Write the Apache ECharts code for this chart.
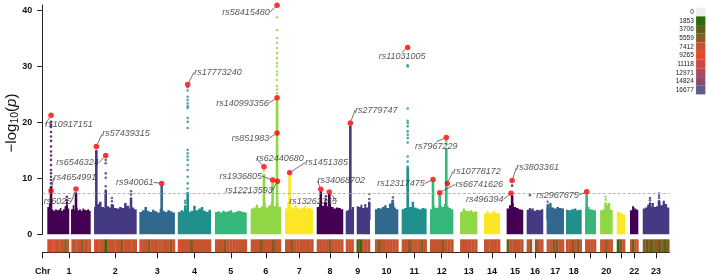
<!DOCTYPE html>
<html>
<head>
<meta charset="utf-8">
<script src="https://cdn.jsdelivr.net/npm/echarts@6/dist/echarts.min.js"></script>
<style>
  html, body { margin: 0; padding: 0; background: #fff; }
  #chart { width: 708px; height: 276px; }
</style>
</head>
<body>
<div id="chart"></div>
<script>
// chromosome layout on the cumulative genome axis (Mb-like units)
const chromNames = ['1','2','3','4','5','6','7','8','9','10','11','12','13','14','15','16','17','18','19','20','21','22','23'];
const chromStart = [26, 290, 546, 763, 973, 1175, 1369, 1548, 1712, 1877, 2028, 2188, 2358, 2493, 2621, 2734, 2847, 2956, 3064, 3149, 3243, 3318, 3390];
const chromEnd   = [271, 531, 747, 951, 1153, 1346, 1529, 1698, 1849, 2009, 2169, 2320, 2455, 2584, 2715, 2828, 2945, 3045, 3126, 3220, 3290, 3365, 3540];
const unlabelledChroms = ['19', '21'];
const genomeEnd = 3540;
const yMax = 41;
const yTicks = [0, 10, 20, 30, 40];
const threshold = 7.3;

// bulk of the SNP cloud: one segment per chromosome block, top heights per bin
const cloudSegChr   = [1, 1, 2, 3, 4, 5, 6, 7, 8, 9, 9, 10, 11, 12, 13, 14, 15, 16, 17, 18, 19, 20, 21, 22, 23];
const cloudSegStart = [26, 160, 290, 546, 763, 973, 1175, 1369, 1548, 1712, 1774, 1877, 2028, 2188, 2358, 2493, 2621, 2734, 2847, 2956, 3064, 3149, 3243, 3318, 3390];
const cloudSegEnd   = [150, 271, 531, 747, 951, 1153, 1346, 1529, 1698, 1759, 1849, 2009, 2169, 2320, 2455, 2584, 2715, 2828, 2945, 3045, 3126, 3220, 3290, 3365, 3540];
const cloudTop = [
  [4.9, 5.5, 4.6, 4.4, 4.2, 4.5, 4.3, 4.4, 4.7, 4.2, 4.5, 5.0, 5.8, 4.6],
  [4.5, 5.2, 4.4, 4.8, 4.3, 4.5, 4.2, 4.6, 4.4, 4.3, 4.5, 4.2],
  [4.9, 5.4, 5.8, 4.9, 4.7, 5.0, 4.8, 5.3, 4.7, 4.6, 4.9, 4.7, 5.6, 5.1, 4.6, 4.8, 4.5],
  [4.0, 4.3, 4.9, 4.2, 4.0, 4.4, 4.1, 3.9, 4.6, 4.2, 4.0, 4.3, 4.1, 3.9],
  [4.0, 4.3, 4.1, 4.5, 4.0, 4.2, 5.1, 4.3, 4.6, 4.9, 4.2, 4.0, 4.4],
  [4.0, 4.1, 3.9, 4.2, 4.0, 4.1, 4.3, 3.9, 4.0, 4.2, 4.1, 4.0, 3.9],
  [4.6, 4.8, 5.3, 4.7, 5.0, 5.6, 4.8, 5.2, 5.8, 5.0, 5.4, 4.9],
  [4.6, 5.8, 4.9, 4.6, 5.2, 4.7, 4.5, 4.8, 5.0, 4.6, 4.7, 4.5],
  [4.9, 5.6, 5.1, 5.8, 5.0, 5.4, 4.9, 4.6, 4.8, 4.7, 4.5],
  [4.2, 4.4, 4.5, 4.9],
  [5.0, 4.9, 5.3, 4.7, 5.4, 4.8, 5.8],
  [4.5, 4.7, 4.6, 4.9, 5.2, 4.7, 5.5, 6.1, 4.8, 4.5],
  [4.5, 4.7, 5.0, 4.9, 5.8, 4.8, 4.6, 4.5, 4.7, 4.6],
  [4.5, 5.1, 4.7, 4.8, 5.2, 4.9, 5.4, 5.0, 4.7, 4.5],
  [4.0, 4.6, 4.2, 4.1, 4.3, 4.0, 4.1],
  [3.7, 4.1, 3.8, 3.9, 4.2, 3.8, 3.7],
  [4.6, 5.2, 5.5, 4.9, 4.7, 4.5, 4.4],
  [4.4, 4.3, 4.6, 4.2, 4.4, 4.3, 4.5],
  [4.7, 5.6, 4.8, 4.6, 4.9, 4.7, 4.6],
  [4.4, 4.3, 4.5, 4.6, 4.3, 4.4],
  [4.6, 4.9, 4.5, 4.4, 4.3],
  [4.3, 4.5, 5.2, 5.6, 4.4],
  [4.0, 3.9, 3.7, 3.5],
  [4.3, 5.0, 4.6, 4.4],
  [4.6, 4.8, 5.3, 4.9, 5.6, 4.9, 5.0, 5.8, 5.2, 6.0, 5.4, 4.8]
];

// SNP columns rising out of the cloud: dense run top + scattered SNPs above it
const locusChr      = [1, 1, 1, 2, 2, 2, 2, 3, 4, 4, 6, 6, 6, 7, 8, 8, 8, 9, 9, 10, 11, 12, 12, 12, 15, 16, 17, 19, 20, 23, 23];
const locusPos      = [47, 188, 136, 303, 356, 499, 391, 672, 819, 805, 1250, 1299, 1324, 1395, 1571, 1619, 1600, 1738, 1845, 1979, 2062, 2205, 2243, 2280, 2652, 2753, 2853, 3073, 3180, 3482, 3431];
const locusDenseTop = [8.4, 7.3, 5.0, 14.9, 7.8, 6.4, 5.2, 8.6, 7.4, 5.0, 10.6, 9.2, 24.0, 10.3, 7.5, 7.1, 5.5, 19.3, 5.6, 5.5, 11.8, 9.3, 6.9, 15.2, 6.8, 4.5, 5.2, 7.0, 5.5, 5.9, 5.5];
const locusDots = [
  [20.1, 19.6, 19.2, 18.3, 17.5, 16.7, 15.7, 14.8, 14.1, 13.3, 12.4, 11.5, 10.9, 10.3, 9.7, 9.1],
  [],
  [5.6, 6.1, 6.7],
  [],
  [13.3, 12.7, 10.9, 10.1, 8.6],
  [7.1, 7.7],
  [5.9, 6.5],
  [],
  [26.3, 25.7, 24.6, 24.0, 23.4, 22.9, 22.6, 20.8, 20.1, 19.0, 15.1, 14.5, 13.9, 13.3, 12.4, 11.5, 10.3, 9.1, 8.2],
  [5.6, 6.0],
  [11.4],
  [],
  [38.8, 36.5, 35.1, 34.2, 33.3, 32.4, 31.5, 30.6, 30.0, 29.1, 28.5, 27.6, 26.5, 25.9, 25.2],
  [],
  [],
  [],
  [6.2, 6.8],
  [],
  [6.3, 7.2],
  [6.0, 6.6],
  [30.2, 30.0, 22.5, 20.3, 19.9, 19.3, 18.4, 17.8, 17.2, 16.4, 13.9, 13.0, 12.1],
  [],
  [],
  [16.2, 16.7],
  [8.7],
  [7.0],
  [5.8],
  [],
  [6.2, 6.7],
  [6.5, 6.9, 7.3],
  [6.1, 6.5]
];

// highlighted lead SNPs
const leadSnp  = ['rs10917151', 'rs4654991', 'rs6025', 'rs57439315', 'rs6546324', 'rs940061', 'rs17773240', 'rs62440680', 'rs1936805', 'rs58415480', 'rs140993356', 'rs851983', 'rs12213593', 'rs1451385', 'rs34068702', 'rs13262355', 'rs2779747', 'rs11031005', 'rs12317475', 'rs66741626', 'rs7967229', 'rs10778172', 'rs496394', 'rs3803361', 'rs2967675'];
const leadPos  = [47, 47, 188, 303, 356, 672, 819, 1250, 1299, 1324, 1324, 1324, 1326, 1395, 1571, 1619, 1738, 2062, 2205, 2243, 2280, 2286, 2646, 2652, 3073];
const leadLogP = [21.3, 7.8, 8.1, 15.7, 14.1, 9.1, 26.8, 12.1, 9.7, 40.95, 24.4, 18.1, 9.5, 11.0, 8.05, 7.55, 19.9, 33.4, 9.8, 7.45, 17.3, 9.1, 7.35, 9.6, 7.6];
// label placement relative to the point (pixels)
const labelOffset = [[18, 9], [24, -13], [-18.5, 12.7], [29.6, -12.7], [-28.2, 7.4], [-27, -1], [30.3, -12.4], [16, -8.4], [-31.8, -4], [-31.1, 7], [-34.5, 5.3], [-26.5, 5], [-28.4, 9], [37, -10.4], [20.5, -8.3], [-16.3, 9], [26, -13], [-5.5, 9], [-32, 4], [39.5, -8.4], [-10, 8.7], [29.6, -12.3], [-26.3, 6], [25.5, -13], [-29.2, 3.3]];

// SNP density strip (SNPs per bin), bins spread evenly over each chromosome
const densityBreaks = [0, 1853, 3706, 5559, 7412, 9265, 11118, 12971, 14824, 16677];
const densityColors = ['#ededed', '#2c6a10', '#5b6119', '#8b5a24', '#c4552f', '#e6472f', '#cc4a46', '#ac4a58', '#8c4b6c', '#5d5a8c'];
const densityBins = [
  [6500, 8500, 8000, 6500, 6800, 6500, 7000, 5400, 6500, 0, 6500, 7000, 6800, 6500, 5300, 6500, 7000, 6500],
  [8500, 7000, 6500, 6800, 1500, 6500, 7000, 6500, 6800, 6500, 5400, 6500, 7000, 6500, 6800, 6500],
  [8500, 7000, 6500, 5400, 6500, 6800, 6500, 6500, 6500, 7000, 6500, 5300, 6500],
  [8500, 6500, 6800, 6500, 5200, 6500, 6800, 6500, 7000, 6500, 6800],
  [6500, 7000, 6800, 5300, 6500, 6500, 6500, 6500, 6800, 7000, 6500],
  [6500, 6800, 6500, 5400, 6500, 7000, 6500, 4800, 6800, 6500],
  [6500, 7000, 5400, 6500, 6800, 6500, 6500, 6500, 6500, 6800],
  [6500, 6800, 7000, 6500, 5300, 6500, 6800, 6500, 6500],
  [6500, 6800, 6500, 0, 2000, 1500, 6500, 6800, 7000],
  [6500, 5300, 6500, 6800, 7000, 6500, 6500, 6500],
  [6500, 6800, 4200, 6500, 7000, 6500, 5400, 6500],
  [6500, 7000, 6800, 6500, 5400, 6500, 6500, 6800],
  [6500, 6800, 7000, 6500, 6800, 6500],
  [6500, 7000, 6800, 6500, 6500, 6800],
  [2000, 6500, 6800, 7000, 6500, 6800],
  [6500, 5400, 0, 5000, 6800, 6500],
  [6500, 6800, 5400, 4500, 6500, 6800],
  [6500, 6800, 4600, 6500, 5400, 6500],
  [6500, 7000, 6800, 6500],
  [6500, 6800, 4200, 6500, 6800],
  [1500, 5400, 6500],
  [6500, 3000, 6500, 6800],
  [4800, 3500, 4800, 3300, 5200, 4200, 3600, 4800, 3300, 4500]
];

const viridis7 = ['#440154', '#443A83', '#31688E', '#21908C', '#35B779', '#8FD744', '#FDE725'];
const FONT = "'Liberation Sans', Arial, Helvetica, sans-serif";
const chromColor = c => viridis7[(c - 1) % 7];
const chromCenter = chromStart.map((s, i) => (s + chromEnd[i]) / 2);

const dotData = [];
locusPos.forEach((p, i) => {
  locusDots[i].forEach(v => dotData.push({ value: [p, v], itemStyle: { color: chromColor(locusChr[i]) } }));
});

const stripData = [];
densityBins.forEach((bins, c) => {
  const w = (chromEnd[c] - chromStart[c]) / bins.length;
  bins.forEach((d, k) => stripData.push([chromStart[c] + k * w, chromStart[c] + (k + 1) * w, d]));
});

const pieces = densityBreaks.map((b, i) => i === 0
  ? { value: 0, label: String(b), color: densityColors[i] }
  : { gt: densityBreaks[i - 1], lte: b, label: String(b), color: densityColors[i] });

const chart = echarts.init(document.getElementById('chart'), null, { renderer: 'canvas' });
chart.setOption({
  animation: false,
  textStyle: { fontFamily: FONT },
  grid: [
    { left: 42.7, top: 5, width: 626.6, height: 229.3, outerBoundsMode: 'none' },
    { left: 42.7, top: 239.3, width: 626.6, height: 13, outerBoundsMode: 'none' }
  ],
  xAxis: [
    { gridIndex: 0, type: 'value', min: 0, max: genomeEnd, show: false },
    {
      gridIndex: 1, type: 'value', min: 0, max: genomeEnd, position: 'bottom', offset: 3.4,
      splitLine: { show: false },
      axisLine: { show: true, lineStyle: { color: '#222', width: 1 } },
      axisTick: { show: true, length: 6, lineStyle: { color: '#222' }, customValues: [0].concat(chromCenter) },
      axisLabel: {
        show: true, fontSize: 9, fontWeight: 'bold', color: '#111', margin: 11, fontFamily: FONT,
        customValues: [0].concat(chromCenter.filter((c, i) => unlabelledChroms.indexOf(chromNames[i]) < 0)),
        formatter: v => {
          if (v === 0) return 'Chr';
          const k = chromCenter.findIndex(c => Math.abs(c - v) < 0.01);
          return k >= 0 ? chromNames[k] : '';
        }
      }
    }
  ],
  yAxis: [
    {
      gridIndex: 0, type: 'value', min: 0, max: yMax,
      splitLine: { show: false },
      axisLine: { show: true, lineStyle: { color: '#222', width: 1 } },
      axisTick: { show: true, length: 5.5, lineStyle: { color: '#222' }, customValues: yTicks },
      axisLabel: { fontSize: 9, fontWeight: 'bold', color: '#111', margin: 10.5, fontFamily: FONT, customValues: yTicks }
    },
    { gridIndex: 1, type: 'value', min: 0, max: 1, show: false }
  ],
  visualMap: {
    type: 'piecewise', seriesIndex: 4, dimension: 2, orient: 'vertical', inverse: true,
    left: 675.7, top: 7.7, padding: 0, itemWidth: 9.3, itemHeight: 8.67, itemGap: 0, itemSymbol: 'rect',
    textGap: 2.3, selectedMode: false, hoverLink: false,
    textStyle: { fontSize: 6.5, color: '#222', fontFamily: FONT },
    pieces: pieces
  },
  graphic: [{
    type: 'text', x: 12, y: 123, rotation: Math.PI / 2, silent: true,
    style: {
      text: '−log{s|10}({i|p})', fontSize: 15, fontFamily: FONT, fill: '#111',
      align: 'center', verticalAlign: 'middle',
      rich: {
        s: { fontSize: 10.5, fontFamily: FONT, fill: '#111', verticalAlign: 'bottom', lineHeight: 10 },
        i: { fontSize: 15, fontStyle: 'italic', fontFamily: FONT, fill: '#111', lineHeight: 18 }
      }
    }
  }],
  series: [
    {
      type: 'custom', xAxisIndex: 0, yAxisIndex: 0, silent: true, z: 2,
      data: cloudSegStart.map((s, i) => [s, cloudSegEnd[i], 0]),
      encode: { x: [0, 1], y: 2 },
      renderItem: (params, api) => {
        const i = params.dataIndex;
        const s = cloudSegStart[i], e = cloudSegEnd[i], tops = cloudTop[i];
        const w = (e - s) / tops.length;
        const pts = [api.coord([s, 0])];
        tops.forEach((h, k) => {
          pts.push(api.coord([s + k * w, h]));
          pts.push(api.coord([s + (k + 1) * w, h]));
        });
        pts.push(api.coord([e, 0]));
        return { type: 'polygon', shape: { points: pts }, style: { fill: chromColor(cloudSegChr[i]) } };
      }
    },
    {
      type: 'custom', xAxisIndex: 0, yAxisIndex: 0, silent: true, z: 3,
      data: locusPos.map((p, i) => [p, 2.5, locusDenseTop[i]]),
      encode: { x: 0, y: [1, 2] },
      renderItem: (params, api) => {
        const i = params.dataIndex;
        const lo = api.coord([locusPos[i], 2.5]);
        const hi = api.coord([locusPos[i], locusDenseTop[i]]);
        return {
          type: 'rect',
          shape: { x: lo[0] - 1.3, y: hi[1] - 1.2, width: 2.6, height: lo[1] - hi[1] + 1.2, r: 1.2 },
          style: { fill: chromColor(locusChr[i]) }
        };
      }
    },
    {
      type: 'scatter', xAxisIndex: 0, yAxisIndex: 0, silent: true, z: 3,
      symbolSize: 2.6, data: dotData,
      markLine: {
        silent: true, symbol: ['none', 'none'], label: { show: false },
        lineStyle: { color: '#b3b3b3', width: 1, type: [3, 2] },
        data: [{ yAxis: threshold }]
      }
    },
    {
      type: 'scatter', xAxisIndex: 0, yAxisIndex: 0, silent: true, z: 5,
      symbolSize: 5.5, itemStyle: { color: '#ff0000' },
      data: leadPos.map((p, i) => ({ value: [p, leadLogP[i]], name: leadSnp[i] })),
      label: {
        show: true, formatter: '{b}', fontSize: 9, fontStyle: 'italic', color: '#2a2a2a', fontFamily: FONT
      },
      labelLine: { show: true, lineStyle: { color: '#333', width: 0.7 } },
      labelLayout: p => {
        const o = labelOffset[p.dataIndex];
        const cx = p.rect.x + p.rect.width / 2, cy = p.rect.y + p.rect.height / 2;
        return { x: cx + o[0], y: cy + o[1], align: 'center', verticalAlign: 'middle' };
      }
    },
    {
      type: 'custom', xAxisIndex: 1, yAxisIndex: 1, silent: true,
      data: stripData,
      encode: { x: [0, 1] },
      renderItem: (params, api) => {
        const a = api.coord([api.value(0), 1]);
        const b = api.coord([api.value(1), 0]);
        return {
          type: 'rect',
          shape: { x: a[0], y: a[1], width: b[0] - a[0] + 0.3, height: b[1] - a[1] },
          style: { fill: api.visual('color') }
        };
      }
    }
  ]
});
</script>
</body>
</html>
